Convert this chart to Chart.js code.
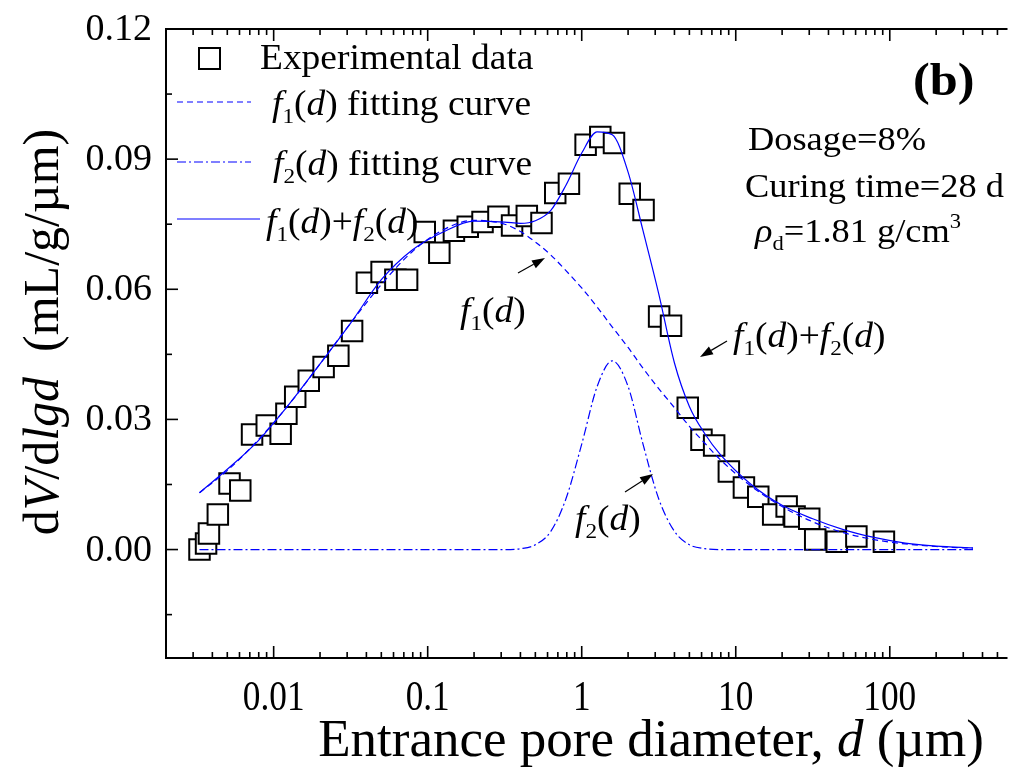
<!DOCTYPE html>
<html>
<head>
<meta charset="utf-8">
<script src="https://cdn.jsdelivr.net/npm/chart.js@4.4.0/dist/chart.umd.min.js"></script>
<style>
html, body { margin: 0; padding: 0; background: #fff; overflow: hidden; }
canvas { display: block; }
</style>
</head>
<body>
<canvas id="psdChart" width="1022" height="783"></canvas>
<script>
// experimental points: entrance pore diameter (µm) and dV/dlgd (mL/g/µm)
const expD = [0.0033, 0.00364, 0.0038, 0.00434, 0.00517, 0.00607, 0.00724, 0.00902, 0.0111, 0.0121,
    0.0138, 0.0169, 0.0211, 0.0263, 0.0323, 0.0403, 0.0502, 0.0617, 0.0735, 0.0957,
    0.119, 0.148, 0.182, 0.227, 0.288, 0.353, 0.440, 0.548, 0.673, 0.826,
    1.06, 1.32, 1.62, 2.05, 2.52, 3.18, 3.80, 4.88, 5.99, 7.24,
    9.02, 11.3, 14.0, 17.5, 21.4, 24.1, 30.0, 32.8, 45.3, 60.7, 91.6];
const expV = [0.0000, 0.0014, 0.0037, 0.0081, 0.0152, 0.0136, 0.0265, 0.0286, 0.0267, 0.0313,
    0.0352, 0.0389, 0.0421, 0.0447, 0.0504, 0.0615, 0.0640, 0.0622, 0.0622, 0.0732,
    0.0684, 0.0735, 0.0744, 0.0755, 0.0767, 0.0747, 0.0769, 0.0753, 0.0822, 0.0843,
    0.0933, 0.0951, 0.0937, 0.0820, 0.0783, 0.0537, 0.0516, 0.0327, 0.0253, 0.0240,
    0.0180, 0.0143, 0.0122, 0.0081, 0.0099, 0.0076, 0.0071, 0.0023, 0.0018, 0.0030, 0.0018];

// fitted curves read along the diameter axis
const fitD = [0.0033, 0.005, 0.0079, 0.0126, 0.02, 0.0316, 0.05, 0.079, 0.126, 0.2,
    0.316, 0.4, 0.5, 0.63, 0.79, 1.0, 1.26, 1.58, 2.0, 2.5,
    3.16, 4.0, 5.0, 6.3, 7.9, 12.6, 20, 31.6, 50, 79, 126, 200, 347];
const f1Vals = [0.0131, 0.0182, 0.0252, 0.0335, 0.0428, 0.0522, 0.0611, 0.0686, 0.0737, 0.0759,
    0.0750, 0.0733, 0.0709, 0.0679, 0.0643, 0.0603, 0.0559, 0.0513, 0.0466, 0.0418,
    0.0371, 0.0327, 0.0284, 0.0245, 0.0208, 0.0146, 0.0099, 0.0064, 0.0039, 0.0023, 0.0013, 0.0007, 0.0003];
const f2Vals = [0, 0, 0, 0, 0, 0, 0, 0, 0, 0,
    0, 0.0002, 0.0011, 0.0042, 0.0117, 0.0243, 0.0376, 0.0435, 0.0376, 0.0243,
    0.0117, 0.0042, 0.0011, 0.0002, 0, 0, 0, 0, 0, 0, 0, 0, 0];
const sumVals = [0.0131, 0.0185, 0.0250, 0.0335, 0.0428, 0.0522, 0.0622, 0.0690, 0.0732, 0.0757,
    0.0755, 0.0752, 0.0758, 0.0782, 0.0840, 0.0914, 0.0963, 0.0956, 0.0870, 0.0735,
    0.0590, 0.0430, 0.0330, 0.0267, 0.0220, 0.0150, 0.0102, 0.0071, 0.0046, 0.0028, 0.0015, 0.0008, 0.0004];

const xTickVals = [0.01, 0.1, 1, 10, 100];
const xTickLabels = ['0.01', '0.1', '1', '10', '100'];
const yTickVals = [0, 0.03, 0.06, 0.09, 0.12];
const yTickLabels = ['0.00', '0.03', '0.06', '0.09', '0.12'];
const yMinorVals = [-0.015, 0.015, 0.045, 0.075, 0.105];

const SERIF = '"Liberation Serif", "Times New Roman", serif';
const BLUE = '#0000ff';
const DASH_F1 = [6, 4];
const DASH_F2 = [9, 3, 2, 3];
const TXT_SX = 1.07;   // text in the figure is a bit wider than plain Times

function pts(xs, ys) {
    return xs.map((x, i) => ({ x: x, y: ys[i] }));
}

// draws a run of text pieces: [text, style] with style '', 'i', 'b', 'sub', 'sup'
function richText(ctx, parts, x, y, size, align, sx) {
    sx = sx || 1;
    const pieces = parts.map(([t, s]) => {
        const small = s === 'sub' || s === 'sup';
        const sz = small ? size * 0.62 : size;
        const font = (s === 'i' ? 'italic ' : s === 'b' ? 'bold ' : '') + sz + 'px ' + SERIF;
        ctx.font = font;
        return { t, font, w: ctx.measureText(t).width, dy: s === 'sub' ? size * 0.24 : s === 'sup' ? -size * 0.42 : 0 };
    });
    const total = pieces.reduce((a, p) => a + p.w, 0);
    let cx = align === 'center' ? -total / 2 : align === 'right' ? -total : 0;
    ctx.save();
    ctx.translate(x, y);
    ctx.scale(sx, 1);
    ctx.textAlign = 'left';
    ctx.textBaseline = 'alphabetic';
    pieces.forEach(p => {
        ctx.font = p.font;
        ctx.fillText(p.t, cx, p.dy);
        cx += p.w;
    });
    ctx.restore();
}

function arrow(ctx, x1, y1, x2, y2) {
    const a = Math.atan2(y2 - y1, x2 - x1);
    const len = 13, half = 4.5;
    ctx.beginPath();
    ctx.moveTo(x1, y1);
    ctx.lineTo(x2 - len * Math.cos(a), y2 - len * Math.sin(a));
    ctx.lineWidth = 1.2;
    ctx.stroke();
    ctx.beginPath();
    ctx.moveTo(x2, y2);
    ctx.lineTo(x2 - len * Math.cos(a) + half * Math.sin(a), y2 - len * Math.sin(a) - half * Math.cos(a));
    ctx.lineTo(x2 - len * Math.cos(a) - half * Math.sin(a), y2 - len * Math.sin(a) + half * Math.cos(a));
    ctx.closePath();
    ctx.fill();
}

const decorPlugin = {
    id: 'decor',
    afterDraw(chart) {
        const ctx = chart.ctx;
        const area = chart.chartArea;
        const xs = chart.scales.x, ys = chart.scales.y;
        ctx.save();
        ctx.strokeStyle = '#000';
        ctx.fillStyle = '#000';
        ctx.setLineDash([]);

        // frame (right side is cut off in the figure)
        ctx.lineWidth = 2;
        ctx.beginPath();
        ctx.moveTo(area.right + 2, area.top);
        ctx.lineTo(area.left, area.top);
        ctx.lineTo(area.left, area.bottom);
        ctx.lineTo(area.right + 2, area.bottom);
        ctx.stroke();

        // x ticks (inward, mirrored on top)
        ctx.lineWidth = 1.6;
        for (let e = -3; e <= 3; e++) {
            for (let k = 1; k <= 9; k++) {
                const v = k * Math.pow(10, e);
                if (v < xs.min || v > xs.max) continue;
                const px = xs.getPixelForValue(v);
                const len = k === 1 ? 12 : 6;
                ctx.beginPath();
                ctx.moveTo(px, area.bottom);
                ctx.lineTo(px, area.bottom - len);
                ctx.moveTo(px, area.top);
                ctx.lineTo(px, area.top + len);
                ctx.stroke();
            }
        }
        // y ticks
        yTickVals.forEach(v => {
            const py = ys.getPixelForValue(v);
            ctx.beginPath();
            ctx.moveTo(area.left, py);
            ctx.lineTo(area.left + 12, py);
            ctx.stroke();
        });
        yMinorVals.forEach(v => {
            const py = ys.getPixelForValue(v);
            ctx.beginPath();
            ctx.moveTo(area.left, py);
            ctx.lineTo(area.left + 6, py);
            ctx.stroke();
        });

        // tick labels
        ctx.font = '38px ' + SERIF;
        ctx.textAlign = 'right';
        ctx.textBaseline = 'middle';
        yTickVals.forEach((v, i) => ctx.fillText(yTickLabels[i], 152, ys.getPixelForValue(v) + 1));
        ctx.textAlign = 'center';
        ctx.textBaseline = 'alphabetic';
        xTickVals.forEach((v, i) => {
            const px = xs.getPixelForValue(v);
            ctx.save();
            ctx.translate(px, 710);
            ctx.scale(0.84, 1);
            ctx.font = '42px ' + SERIF;
            ctx.fillText(xTickLabels[i], 0, 0);
            ctx.restore();
        });

        // axis titles
        richText(ctx, [['Entrance pore diameter, ', ''], ['d', 'i'], [' (\u00b5m)', '']], 651, 756, 53, 'center');
        ctx.save();
        ctx.translate(58, 332);
        ctx.rotate(-Math.PI / 2);
        richText(ctx, [['d', ''], ['V', 'i'], ['/d', ''], ['lgd', 'i'], ['  (mL/g/\u00b5m)', '']], 0, 0, 50, 'center');
        ctx.restore();

        // legend
        ctx.lineWidth = 2;
        ctx.fillStyle = '#fff';
        ctx.fillRect(199, 48, 21, 21);
        ctx.strokeRect(199, 48, 21, 21);
        ctx.fillStyle = '#000';
        richText(ctx, [['Experimental data', '']], 260, 69, 35, 'left', TXT_SX);

        ctx.strokeStyle = BLUE;
        ctx.lineWidth = 1.2;
        ctx.setLineDash(DASH_F1);
        ctx.beginPath(); ctx.moveTo(177, 102); ctx.lineTo(251, 102); ctx.stroke();
        ctx.setLineDash(DASH_F2);
        ctx.beginPath(); ctx.moveTo(177, 162); ctx.lineTo(251, 162); ctx.stroke();
        ctx.setLineDash([]);
        ctx.beginPath(); ctx.moveTo(177, 219); ctx.lineTo(260, 219); ctx.stroke();

        richText(ctx, [['f', 'i'], ['1', 'sub'], ['(', ''], ['d', 'i'], [') fitting curve', '']], 272, 115, 35, 'left', TXT_SX);
        richText(ctx, [['f', 'i'], ['2', 'sub'], ['(', ''], ['d', 'i'], [') fitting curve', '']], 273, 175, 35, 'left', TXT_SX);
        richText(ctx, [['f', 'i'], ['1', 'sub'], ['(', ''], ['d', 'i'], [')+', ''], ['f', 'i'], ['2', 'sub'], ['(', ''], ['d', 'i'], [')', '']], 266, 233, 35, 'left', TXT_SX);

        // annotations
        richText(ctx, [['(b)', 'b']], 913, 95, 47, 'left', TXT_SX);
        richText(ctx, [['Dosage=8%', '']], 748, 150, 34, 'left', TXT_SX);
        richText(ctx, [['Curing time=28 d', '']], 745, 197, 34, 'left', TXT_SX);
        richText(ctx, [['\u03c1', 'i'], ['d', 'sub'], ['=1.81 g/cm', ''], ['3', 'sup']], 755, 242, 34, 'left', TXT_SX);

        richText(ctx, [['f', 'i'], ['1', 'sub'], ['(', ''], ['d', 'i'], [')', '']], 460, 322, 35, 'left', TXT_SX);
        richText(ctx, [['f', 'i'], ['1', 'sub'], ['(', ''], ['d', 'i'], [')+', ''], ['f', 'i'], ['2', 'sub'], ['(', ''], ['d', 'i'], [')', '']], 733, 347, 35, 'left', TXT_SX);
        richText(ctx, [['f', 'i'], ['2', 'sub'], ['(', ''], ['d', 'i'], [')', '']], 575, 530, 35, 'left', TXT_SX);

        ctx.strokeStyle = '#000';
        arrow(ctx, 518, 273, 545, 258);
        arrow(ctx, 727, 341, 700, 357);
        arrow(ctx, 625, 492, 653, 474);
        ctx.restore();
    }
};

new Chart(document.getElementById('psdChart'), {
    type: 'scatter',
    data: {
        datasets: [
            {
                label: 'Experimental data',
                data: pts(expD, expV),
                pointStyle: 'rect',
                pointRadius: 14.5,
                borderWidth: 2,
                borderColor: '#000',
                backgroundColor: '#fff',
                order: 4
            },
            {
                label: 'f1(d) fitting curve',
                data: pts(fitD, f1Vals),
                showLine: true,
                borderColor: BLUE,
                borderWidth: 1.2,
                borderDash: DASH_F1,
                pointRadius: 0,
                cubicInterpolationMode: 'monotone',
                order: 3
            },
            {
                label: 'f2(d) fitting curve',
                data: pts(fitD, f2Vals),
                showLine: true,
                borderColor: BLUE,
                borderWidth: 1.2,
                borderDash: DASH_F2,
                pointRadius: 0,
                cubicInterpolationMode: 'monotone',
                order: 2
            },
            {
                label: 'f1(d)+f2(d)',
                data: pts(fitD, sumVals),
                showLine: true,
                borderColor: BLUE,
                borderWidth: 1.2,
                pointRadius: 0,
                cubicInterpolationMode: 'monotone',
                order: 1
            }
        ]
    },
    options: {
        responsive: false,
        animation: false,
        devicePixelRatio: 1,
        layout: { padding: { top: 29, right: 0, bottom: 0, left: 0 } },
        plugins: {
            legend: { display: false },
            tooltip: { enabled: false }
        },
        scales: {
            x: {
                type: 'logarithmic',
                min: 0.002,
                max: 564,
                grid: { display: false },
                border: { display: false },
                ticks: { display: false },
                afterFit: function(scale) { scale.height = 125; }
            },
            y: {
                type: 'linear',
                min: -0.025,
                max: 0.12,
                grid: { display: false },
                border: { display: false },
                ticks: { display: false },
                afterFit: function(scale) { scale.width = 166; }
            }
        }
    },
    plugins: [decorPlugin]
});
</script>
</body>
</html>
